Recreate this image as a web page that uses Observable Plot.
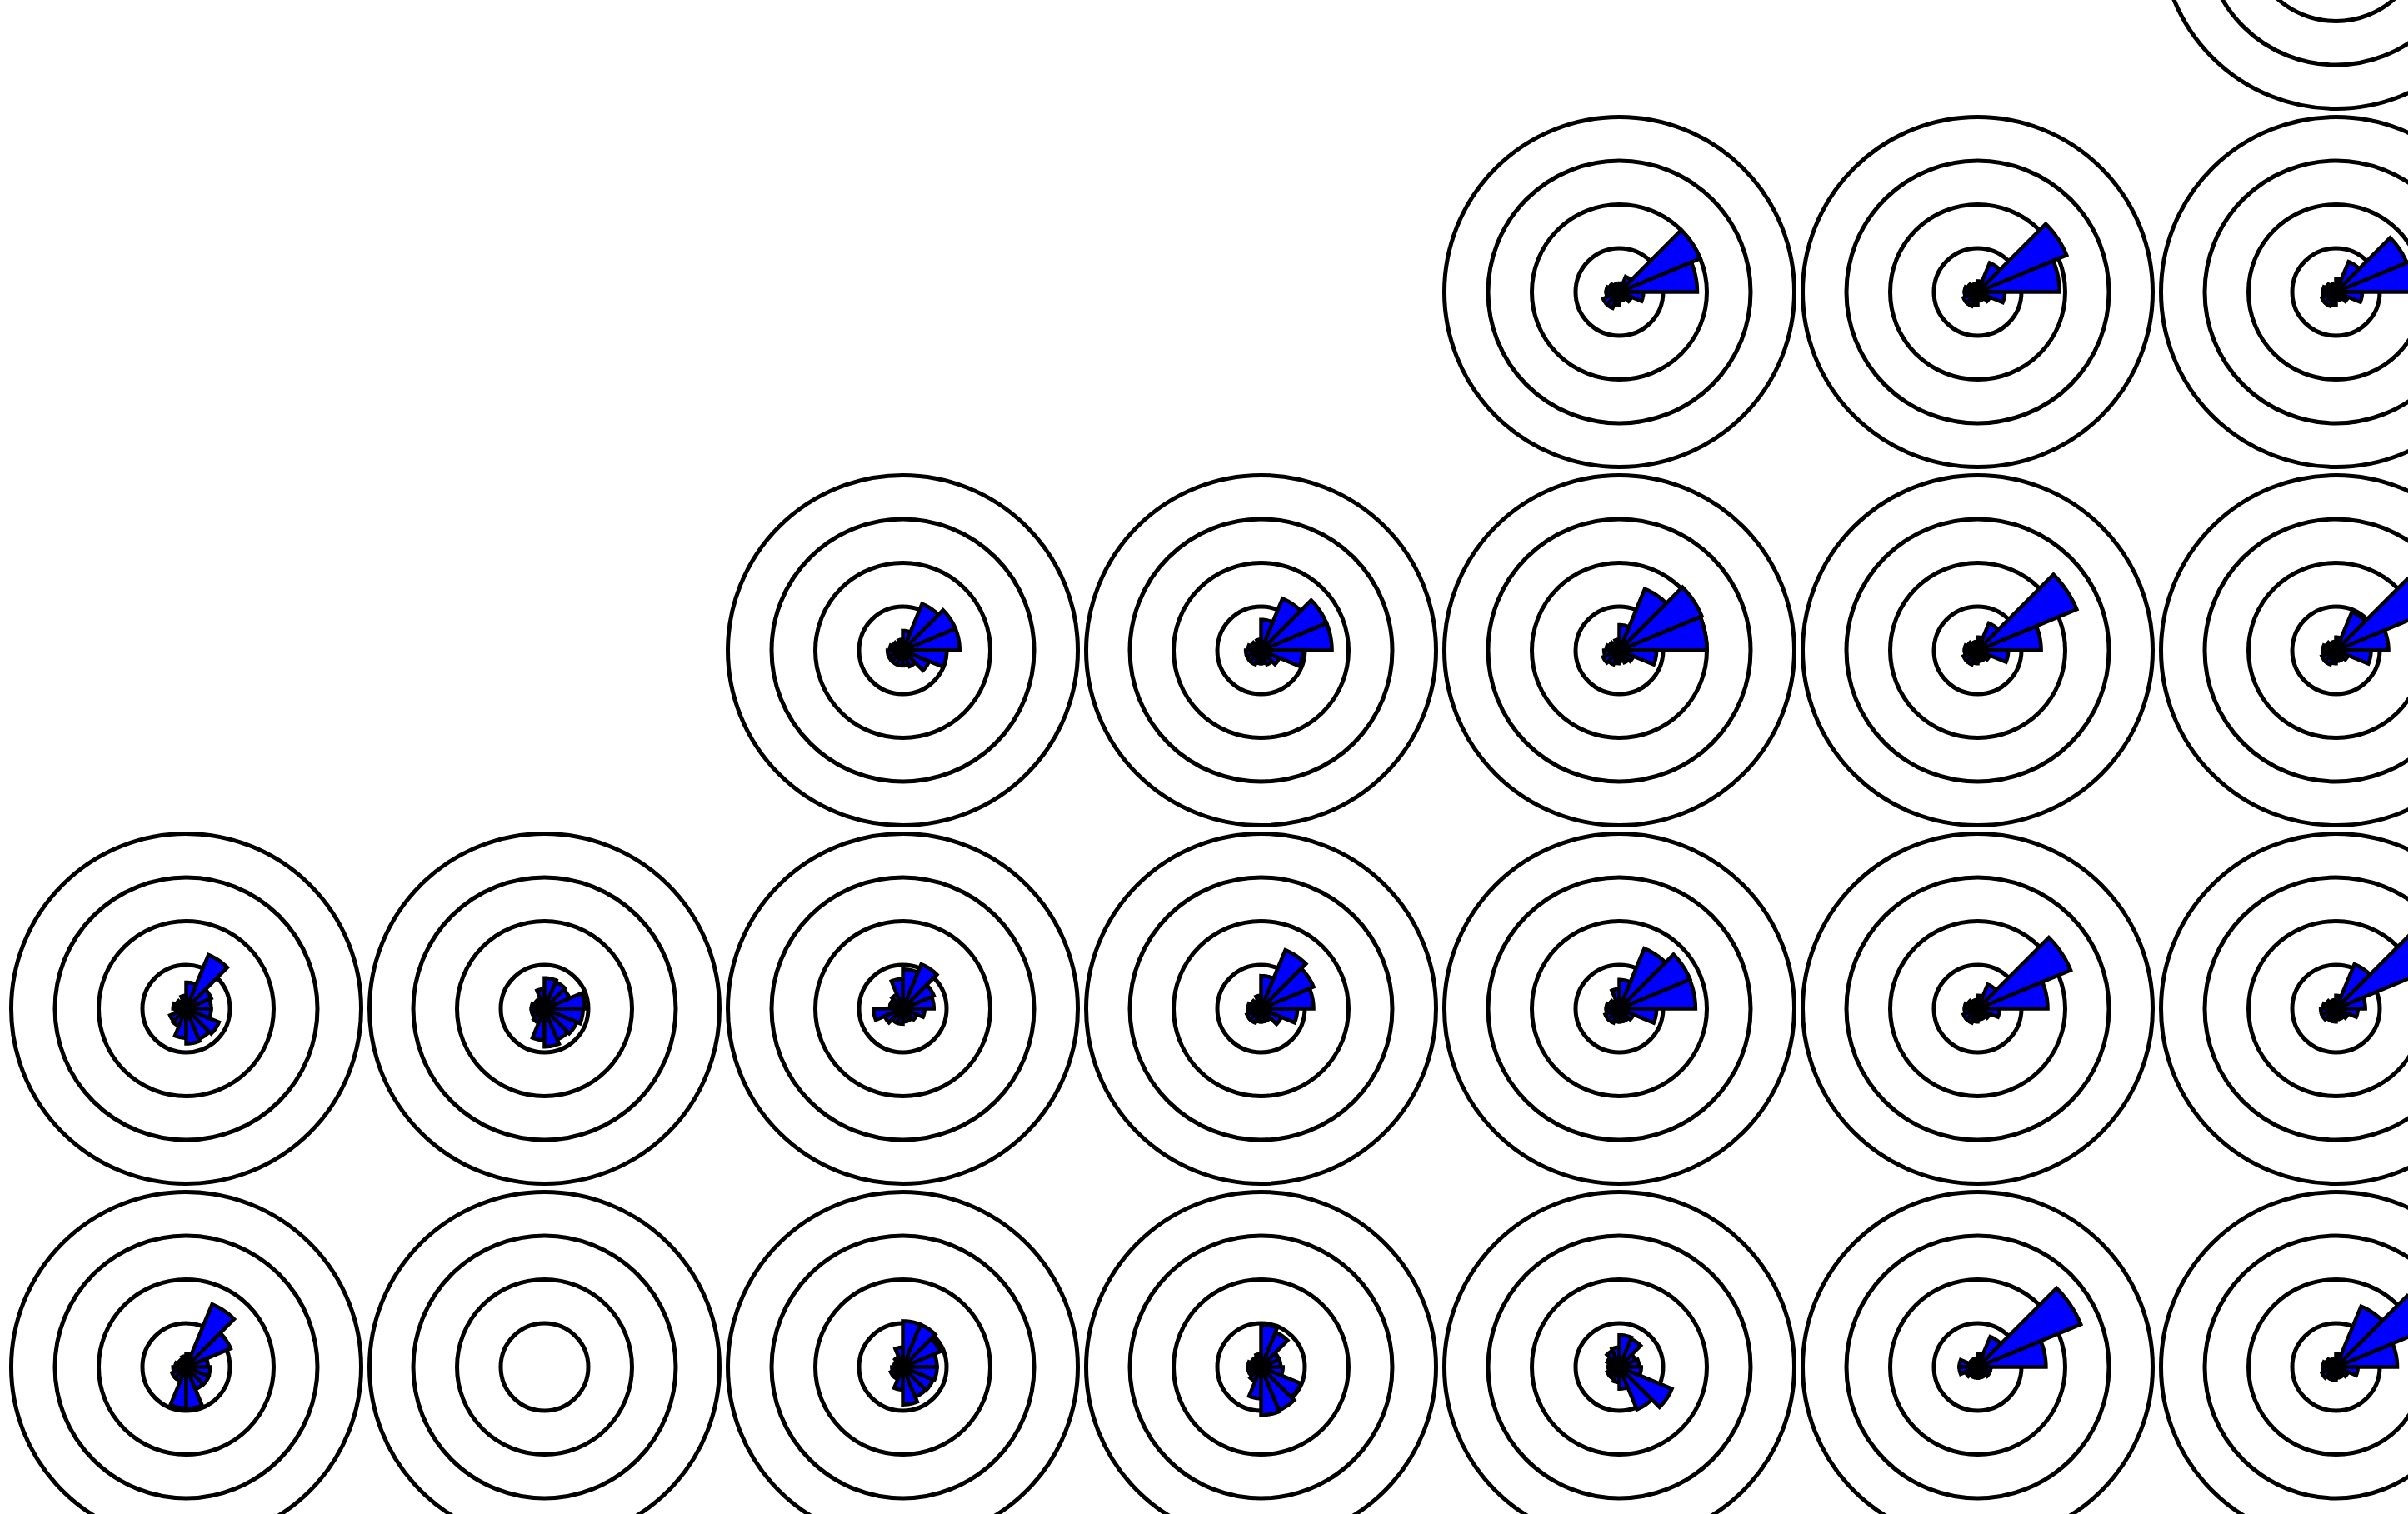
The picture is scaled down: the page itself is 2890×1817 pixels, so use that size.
<!DOCTYPE html>
<html><head><meta charset="utf-8">
<script src="https://cdn.jsdelivr.net/npm/d3@7"></script>
<script src="https://cdn.jsdelivr.net/npm/@observablehq/plot@0.6"></script>
<style>html,body{margin:0;padding:0;background:#fff;overflow:hidden}#chart svg{display:block}</style>
</head><body><div id="chart"></div>
<script>
// 16 direction bins of 22.5°, bin k spans [k*22.5°, (k+1)*22.5°] counter-clockwise from east
const sectorCount = 16;
const ringLevels = [1, 2, 3, 4];

// values per station (ring units), bins k0..k15
const r0c6 = [];
const r1c4 = [1.78, 2.0, 0.38, 0.2, 0.15, 0.2, 0.25, 0.3, 0.3, 0.4, 0.4, 0.3, 0.2, 0.2, 0.3, 0.55];
const r1c5 = [1.87, 2.2, 0.72, 0.25, 0.15, 0.2, 0.25, 0.3, 0.3, 0.35, 0.35, 0.3, 0.2, 0.2, 0.3, 0.62];
const r1c6 = [2.0, 1.75, 0.75, 0.3, 0.15, 0.2, 0.25, 0.3, 0.3, 0.35, 0.35, 0.3, 0.2, 0.2, 0.3, 0.6];
const r2c2 = [1.3, 1.3, 1.15, 0.45, 0.25, 0.2, 0.25, 0.3, 0.35, 0.35, 0.35, 0.35, 0.35, 0.4, 0.65, 1.0];
const r2c3 = [1.62, 1.62, 1.28, 0.7, 0.25, 0.2, 0.25, 0.3, 0.35, 0.35, 0.35, 0.3, 0.3, 0.35, 0.45, 0.95];
const r2c4 = [2.0, 2.04, 1.52, 0.58, 0.25, 0.2, 0.25, 0.3, 0.35, 0.4, 0.35, 0.3, 0.25, 0.3, 0.35, 0.85];
const r2c5 = [1.45, 2.45, 0.67, 0.3, 0.2, 0.2, 0.25, 0.3, 0.3, 0.35, 0.35, 0.3, 0.25, 0.25, 0.3, 0.7];
const r2c6 = [1.2, 2.3, 0.95, 0.3, 0.2, 0.2, 0.25, 0.3, 0.3, 0.35, 0.35, 0.3, 0.25, 0.25, 0.3, 0.8];
const r3c0 = [0.57, 0.62, 1.33, 0.6, 0.3, 0.2, 0.25, 0.3, 0.25, 0.4, 0.43, 0.67, 0.8, 0.75, 0.81, 0.57];
const r3c1 = [0.92, 0.62, 0.66, 0.7, 0.45, 0.25, 0.25, 0.3, 0.3, 0.3, 0.35, 0.72, 0.87, 0.76, 0.8, 0.88];
const r3c2 = [0.71, 0.77, 1.1, 0.9, 0.68, 0.35, 0.3, 0.3, 0.67, 0.45, 0.35, 0.35, 0.3, 0.3, 0.35, 0.5];
const r3c3 = [1.2, 1.3, 1.45, 0.75, 0.3, 0.2, 0.25, 0.3, 0.3, 0.35, 0.35, 0.3, 0.3, 0.3, 0.5, 0.83];
const r3c4 = [1.74, 1.75, 1.49, 0.66, 0.45, 0.2, 0.25, 0.3, 0.3, 0.35, 0.35, 0.3, 0.3, 0.3, 0.35, 0.85];
const r3c5 = [1.6, 2.3, 0.6, 0.3, 0.2, 0.2, 0.25, 0.3, 0.3, 0.35, 0.35, 0.3, 0.25, 0.25, 0.3, 0.5];
const r3c6 = [0.67, 2.4, 1.1, 0.3, 0.2, 0.2, 0.25, 0.3, 0.35, 0.35, 0.3, 0.3, 0.25, 0.25, 0.3, 0.5];
const r4c0 = [0.5, 1.1, 1.55, 0.3, 0.25, 0.2, 0.2, 0.25, 0.3, 0.35, 0.35, 0.94, 0.95, 0.55, 0.56, 0.55];
const r4c1 = [];
const r4c2 = [0.78, 0.92, 1.05, 1.05, 0.45, 0.25, 0.2, 0.2, 0.25, 0.3, 0.3, 0.52, 0.86, 0.74, 0.75, 0.78];
const r4c3 = [0.45, 0.45, 0.86, 0.97, 0.3, 0.25, 0.25, 0.3, 0.3, 0.3, 0.35, 0.72, 1.1, 1.07, 0.98, 0.5];
const r4c4 = [0.45, 0.4, 0.69, 0.73, 0.45, 0.4, 0.3, 0.25, 0.25, 0.3, 0.3, 0.35, 0.5, 1.05, 1.3, 0.5];
const r4c5 = [1.56, 2.55, 0.75, 0.3, 0.2, 0.2, 0.2, 0.42, 0.42, 0.3, 0.25, 0.25, 0.25, 0.25, 0.3, 0.3];
const r4c6 = [1.4, 2.3, 1.5, 0.3, 0.2, 0.2, 0.25, 0.3, 0.3, 0.35, 0.3, 0.3, 0.25, 0.25, 0.3, 0.5];

const stationRow = [0, 1, 1, 1, 2, 2, 2, 2, 2, 3, 3, 3, 3, 3, 3, 3, 4, 4, 4, 4, 4, 4, 4];
const stationCol = [6, 4, 5, 6, 2, 3, 4, 5, 6, 0, 1, 2, 3, 4, 5, 6, 0, 1, 2, 3, 4, 5, 6];
const stationValues = [r0c6, r1c4, r1c5, r1c6, r2c2, r2c3, r2c4, r2c5, r2c6,
  r3c0, r3c1, r3c2, r3c3, r3c4, r3c5, r3c6, r4c0, r4c1, r4c2, r4c3, r4c4, r4c5, r4c6];

// layout
const W = 2890, H = 1817;
const PX = 52.5;              // pixels per ring unit
const SPACING = 430 / PX;     // grid spacing in ring units
const ORIGIN_X = 223, ORIGIN_Y = -80;

const stations = stationRow.map((row, i) => ({
  row, col: stationCol[i], cx: stationCol[i] * SPACING, cy: row * SPACING, values: stationValues[i]
}));

const rings = stations.flatMap(s => ringLevels.map(level => ({cx: s.cx, cy: s.cy, level})));

const step = 360 / sectorCount;
const wedgePts = [];
stations.forEach((s, si) => {
  s.values.forEach((v, k) => {
    if (!(v > 0)) return;
    const id = `${si}-${k}`;
    const a0 = k * step, a1 = (k + 1) * step, am = (a0 + a1) / 2;
    const pt = (a, r) => { const t = a * Math.PI / 180; return {id, x: s.cx + r * Math.cos(t), y: s.cy - r * Math.sin(t)}; };
    const n = 8;
    for (let i = 0; i <= n; i++) wedgePts.push(pt(am + (a1 - am) * i / n, v));
    wedgePts.push({id, x: s.cx, y: s.cy});
    for (let i = 0; i <= n; i++) wedgePts.push(pt(a0 + (am - a0) * i / n, v));
  });
});

const chart = Plot.plot({
  width: W, height: H, margin: 0,
  style: {background: "#fff", overflow: "hidden"},
  x: {axis: null, domain: [(0 - ORIGIN_X) / PX, (W - ORIGIN_X) / PX], range: [0, W]},
  y: {axis: null, domain: [(0 - ORIGIN_Y) / PX, (H - ORIGIN_Y) / PX], range: [0, H]},
  r: {type: "linear", domain: [0, 4], range: [0, 4 * PX]},
  marks: [
    Plot.dot(rings, {x: "cx", y: "cy", r: "level", fill: "none", stroke: "black", strokeWidth: 5}),
    Plot.line(wedgePts, {x: "x", y: "y", z: "id", fill: "#0000ff", stroke: "black", strokeWidth: 4.5,
      strokeLinejoin: "miter", strokeMiterlimit: 10, curve: "linear"})
  ]
});
document.getElementById("chart").append(chart);
</script>
</body></html>
